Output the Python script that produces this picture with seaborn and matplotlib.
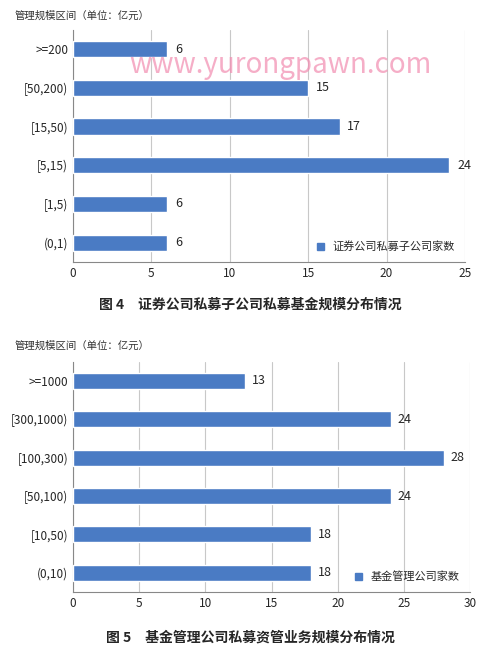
import matplotlib.pyplot as plt
import seaborn as sns
import pandas as pd
from matplotlib.patches import Patch

sns.set_style("white")
plt.rcParams['font.family'] = ['Noto Sans CJK SC', 'DejaVu Sans']

cats1 = [">=200", "[50,200)", "[15,50)", "[5,15)", "[1,5)", "(0,1)"]
vals1 = [6, 15, 17, 24, 6, 6]
cats2 = [">=1000", "[300,1000)", "[100,300)", "[50,100)", "[10,50)", "(0,10)"]
vals2 = [13, 24, 28, 24, 18, 18]

bar_color = "#4a7bc4"

fig = plt.figure(figsize=(5, 6.6), dpi=100)

def draw(ax, cats, vals, xmax, legend, ylab_y):
    df = pd.DataFrame({"cat": cats, "val": vals})
    sns.barplot(data=df, x="val", y="cat", color=bar_color, width=0.42,
                saturation=1, ax=ax, zorder=3)
    for i, v in enumerate(vals):
        ax.text(v + 0.5, i, str(v), va="center", ha="left", fontsize=9)
    ax.set_xlim(0, xmax)
    ax.set_xticks(range(0, xmax + 1, 5))
    ax.grid(axis="x", color="#c8c8c8", lw=0.8, zorder=0)
    ax.set_xlabel("")
    ax.set_ylabel("")
    ax.tick_params(labelsize=8.5, length=0)
    for s in ["top", "right"]:
        ax.spines[s].set_visible(False)
    for s in ["left", "bottom"]:
        ax.spines[s].set_color("#888888")
    ax.legend(handles=[Patch(color=bar_color, label=legend)], loc="lower right",
              frameon=False, fontsize=8, handlelength=0.6, handleheight=0.6,
              bbox_to_anchor=(1.0, 0.0))
    fig.text(0.03, ylab_y, "管理规模区间（单位：亿元）", fontsize=7.5, color="#333333")

ax1 = fig.add_axes([0.146, 0.603, 0.784, 0.352])
draw(ax1, cats1, vals1, 25, "证券公司私募子公司家数", 0.972)
ax2 = fig.add_axes([0.146, 0.103, 0.794, 0.349])
draw(ax2, cats2, vals2, 30, "基金管理公司家数", 0.472)

fig.text(0.5, 0.533, "图 4　证券公司私募子公司私募基金规模分布情况", ha="center",
         fontsize=10, fontweight="bold")
fig.text(0.5, 0.028, "图 5　基金管理公司私募资管业务规模分布情况", ha="center",
         fontsize=10, fontweight="bold")
fig.text(0.56, 0.902, "www.yurongpawn.com", ha="center", va="center",
         fontsize=20, color="#f28cb0", alpha=0.7)

fig.savefig("out.png", dpi=100)
